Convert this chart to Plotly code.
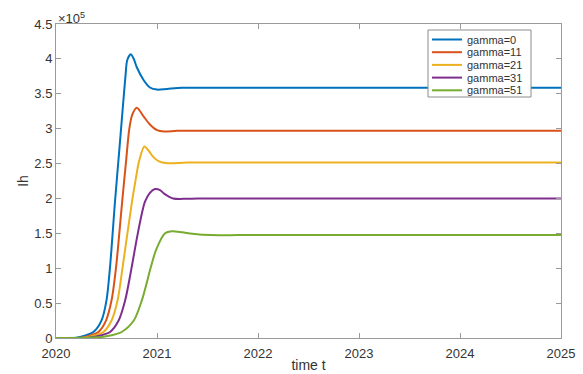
import plotly.graph_objects as go

# ---- data (values in units of 1e5) ----
gammas = [0, 11, 21, 31, 51]
colors = ["#0072BD", "#D95319", "#EDB120", "#7E2F8E", "#77AC30"]

t_g0 = [2020.0, 2020.2, 2020.30, 2020.37, 2020.45, 2020.50, 2020.535, 2020.585, 2020.63,
        2020.667, 2020.69, 2020.705, 2020.74, 2020.77, 2020.80, 2020.87, 2020.93, 2021.0,
        2021.1, 2021.25, 2021.5, 2022.0, 2023.0, 2024.0, 2025.0]
ih_g0 = [0, 0.005, 0.04, 0.086, 0.25, 0.54, 1.02, 1.97, 2.75,
         3.40, 3.79, 3.98, 4.065, 4.00, 3.88, 3.69, 3.59, 3.56,
         3.57, 3.585, 3.587, 3.587, 3.587, 3.587, 3.587]

t_g11 = [2020.0, 2020.25, 2020.35, 2020.42, 2020.495, 2020.55, 2020.595, 2020.655, 2020.693,
         2020.726, 2020.755, 2020.80, 2020.87, 2020.93, 2021.0, 2021.07, 2021.2, 2021.5,
         2022.0, 2023.0, 2024.0, 2025.0]
ih_g11 = [0, 0.005, 0.04, 0.086, 0.25, 0.54, 1.02, 1.95, 2.52,
          3.00, 3.20, 3.30, 3.17, 3.06, 2.98, 2.96, 2.97, 2.97,
          2.97, 2.97, 2.97, 2.97]

t_g21 = [2020.0, 2020.28, 2020.39, 2020.47, 2020.55, 2020.61, 2020.66, 2020.75, 2020.79,
         2020.82, 2020.875, 2020.92, 2020.96, 2021.02, 2021.1, 2021.3, 2021.6,
         2022.0, 2023.0, 2024.0, 2025.0]
ih_g21 = [0, 0.005, 0.04, 0.086, 0.25, 0.54, 1.02, 1.93, 2.28,
          2.52, 2.745, 2.68, 2.60, 2.53, 2.505, 2.515, 2.515,
          2.515, 2.515, 2.515, 2.515]

t_g31 = [2020.0, 2020.32, 2020.45, 2020.535, 2020.62, 2020.685, 2020.75, 2020.81, 2020.88,
         2020.93, 2020.98, 2021.03, 2021.07, 2021.16, 2021.3, 2021.5,
         2022.0, 2023.0, 2024.0, 2025.0]
ih_g31 = [0, 0.005, 0.04, 0.086, 0.25, 0.54, 1.02, 1.50, 1.95,
          2.08, 2.135, 2.12, 2.07, 2.00, 1.995, 2.00,
          2.00, 2.00, 2.00, 2.00]

t_g51 = [2020.0, 2020.45, 2020.55, 2020.65, 2020.77, 2020.85, 2020.94, 2020.99, 2021.08,
         2021.145, 2021.25, 2021.35, 2021.53, 2021.8, 2022.0, 2023.0, 2024.0, 2025.0]
ih_g51 = [0, 0.014, 0.04, 0.086, 0.25, 0.54, 1.02, 1.26, 1.50,
          1.53, 1.515, 1.495, 1.475, 1.475, 1.475, 1.475, 1.475, 1.475]

series_t = [t_g0, t_g11, t_g21, t_g31, t_g51]
series_ih = [ih_g0, ih_g11, ih_g21, ih_g31, ih_g51]

x_ticks = [2020, 2021, 2022, 2023, 2024, 2025]
y_ticks = [0, 0.5, 1, 1.5, 2, 2.5, 3, 3.5, 4, 4.5]
y_exponent = 5

# ---- layout constants ----
W, H = 583, 374
ML, MR, MT, MB = 56, 22, 24, 36
PW, PH = W - ML - MR, H - MT - MB
FONT = "Liberation Sans, Arial, sans-serif"
TXT = "#333333"
AX = "#9a9a9a"


def px_x(px):
    return (px - ML) / PW


def px_y(py):
    return (H - MB - py) / PH


fig = go.Figure()
for g, c, t, v in zip(gammas, colors, series_t, series_ih):
    fig.add_trace(go.Scatter(
        x=t, y=v, mode="lines", name=f"gamma={g}", showlegend=False,
        line=dict(color=c, width=2, shape="spline", smoothing=0.8),
    ))

axis_common = dict(
    showgrid=False, zeroline=False, showline=True, linecolor=AX, linewidth=1,
    mirror="allticks", ticks="inside", ticklen=5, tickcolor=AX, tickwidth=1,
    tickfont=dict(family=FONT, size=13, color=TXT), automargin=False,
)

fig.update_layout(
    width=W, height=H,
    margin=dict(l=ML, r=MR, t=MT, b=MB),
    paper_bgcolor="white", plot_bgcolor="white",
    font=dict(family=FONT, color=TXT),
    showlegend=False,
    xaxis=dict(range=[2020, 2025], tickmode="array", tickvals=x_ticks,
               ticklabelstandoff=3,
               title=dict(text="time t", font=dict(family=FONT, size=14, color=TXT), standoff=0),
               **axis_common),
    yaxis=dict(range=[0, 4.5], tickmode="array", tickvals=y_ticks,
               ticktext=[f"{v:g}" for v in y_ticks],
               title=dict(text="Ih", font=dict(family=FONT, size=14, color=TXT), standoff=2),
               **axis_common),
)

fig.add_annotation(
    xref="paper", yref="paper", x=0, y=1, xanchor="left", yanchor="bottom",
    text=f"×10<sup>{y_exponent}</sup>", showarrow=False,
    font=dict(family=FONT, size=13, color=TXT), yshift=-4,
)

# ---- compact legend box (MATLAB-like) ----
LEG_X0, LEG_X1, LEG_Y0, LEG_Y1 = 428, 531, 30, 97
ROW0, ROW_STEP = 39.5, 12.7
fig.add_shape(type="rect", xref="paper", yref="paper",
              x0=px_x(LEG_X0), x1=px_x(LEG_X1), y0=px_y(LEG_Y1), y1=px_y(LEG_Y0),
              line=dict(color="#8c8c8c", width=1), fillcolor="white", layer="above")
for i, (g, c) in enumerate(zip(gammas, colors)):
    ry = ROW0 + i * ROW_STEP
    fig.add_shape(type="line", xref="paper", yref="paper",
                  x0=px_x(432), x1=px_x(462), y0=px_y(ry), y1=px_y(ry),
                  line=dict(color=c, width=2), layer="above")
    fig.add_annotation(xref="paper", yref="paper", x=px_x(465), y=px_y(ry),
                       xanchor="left", yanchor="middle", showarrow=False,
                       text=f"gamma={g}", font=dict(family=FONT, size=11, color=TXT))

fig.write_html("out.html")
